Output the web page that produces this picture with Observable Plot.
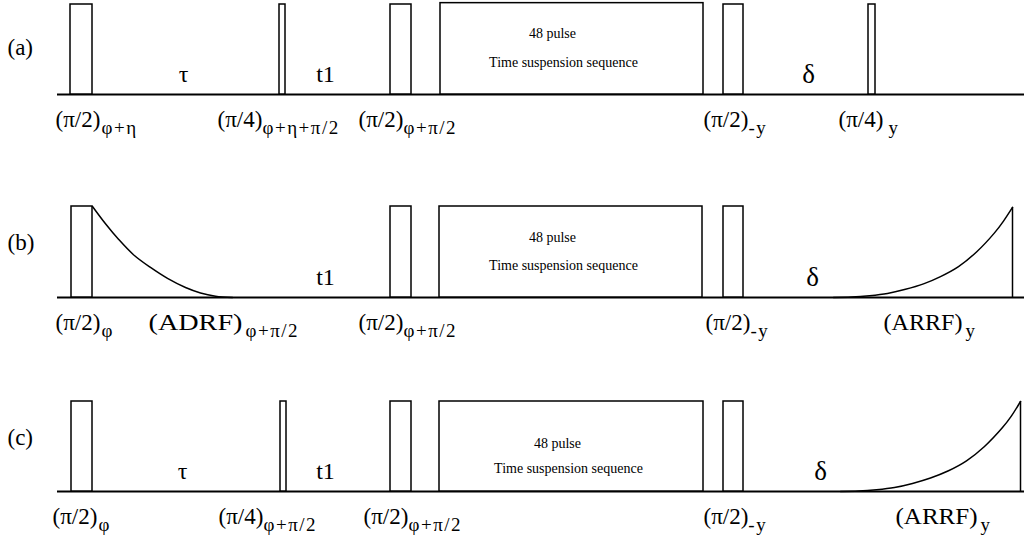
<!DOCTYPE html>
<html>
<head>
<meta charset="utf-8">
<script src="https://cdn.jsdelivr.net/npm/d3@7"></script>
<script src="https://cdn.jsdelivr.net/npm/@observablehq/plot@0.6"></script>
<style>
  body { margin: 0; background: #fff; }
  #chart svg { display: block; }
</style>
</head>
<body>
<div id="chart"></div>
<script>
// Time runs in arbitrary units along each sequence line (0 … 967).
// Amplitude is the RF field strength relative to a hard pulse (0 … 1).

const rowNames = ["(a)", "(b)", "(c)"];

// Hard pulses: [start, end, amplitude]
const pulsesA = [[13, 35, 1], [222, 228, 1], [333, 354, 1], [666, 686, 1], [811, 818, 1]];
const pulsesB = [[14, 35, 1], [333, 354, 1], [666, 686, 1]];
const pulsesC = [[14, 35, 1], [223, 229, 1], [333, 354, 1], [666, 686, 1]];

// 48-pulse time suspension block: [start, end, amplitude]
const blockA = [[383, 646, 1.015]];
const blockB = [[382, 645, 1]];
const blockC = [[382, 646, 1]];

// Adiabatic demagnetisation (ADRF) and remagnetisation (ARRF) ramps: [time, amplitude]
const adrfB = [[35, 1.0], [48, 0.81], [61, 0.64], [76, 0.47], [93, 0.33], [110, 0.21], [128, 0.11], [143, 0.05], [158, 0.015], [175, 0]];
const arrfB = [[776, 0], [794, 0.005], [812, 0.02], [830, 0.045], [848, 0.09], [866, 0.15], [883, 0.23], [901, 0.34], [919, 0.5], [937, 0.71], [946, 0.84], [955, 0.99]];
const arrfC = [[783, 0], [801, 0.005], [819, 0.02], [837, 0.045], [855, 0.09], [873, 0.15], [891, 0.23], [909, 0.34], [927, 0.5], [945, 0.71], [954, 0.84], [963, 1.0]];

// Delay periods: [symbol, centre time]
const delaysA = [["τ", 126], ["t1", 268], ["δ", 751]];
const delaysB = [["t1", 268], ["δ", 755]];
const delaysC = [["τ", 125], ["t1", 268], ["δ", 763]];

// Pulse names with phase subscripts: [name, phase, name start, phase start]
const namesA = [["(π/2)", "φ+η", -2, 44], ["(π/4)", "φ+η+π/2", 160, 205], ["(π/2)", "φ+π/2", 301, 346], ["(π/2)", "-y", 646, 691], ["(π/4)", "y", 781, 831]];
const namesB = [["(π/2)", "φ", -2, 44], ["(ADRF)", "φ+π/2", 91, 188], ["(π/2)", "φ+π/2", 301, 346], ["(π/2)", "-y", 648, 693], ["(ARRF)", "y", 826, 908]];
const namesC = [["(π/2)", "φ", -5, 41], ["(π/4)", "φ+π/2", 161, 206], ["(π/2)", "φ+π/2", 306, 351], ["(π/2)", "-y", 646, 690], ["(ARRF)", "y", 838, 923]];

// Text inside the suspension block: [line, centre time, height]
const blockTextA = [["48 pulse", 495, 0.68], ["Time suspension sequence", 506, 0.36]];
const blockTextB = [["48 pulse", 495, 0.66], ["Time suspension sequence", 506, 0.35]];
const blockTextC = [["48 pulse", 500, 0.53], ["Time suspension sequence", 511, 0.26]];

// Row-label heights (amplitude units)
const rowLabelAmp = [0.52, 0.6, 0.6];

const FONT = "Liberation Serif";
const NAME_SIZE = 23;

function sequence(cfg) {
  const marks = [
    Plot.ruleY([0], {stroke: "black", strokeWidth: 2}),
    Plot.rect(cfg.pulses, {x1: d => d[0], x2: d => d[1], y1: 0, y2: d => d[2], fill: "white", stroke: "black", strokeWidth: 1.5}),
    Plot.rect(cfg.block, {x1: d => d[0], x2: d => d[1], y1: 0, y2: d => d[2], fill: "white", stroke: "black", strokeWidth: 1.5}),
    Plot.text(cfg.blockText, {x: d => d[1], y: d => d[2], text: d => d[0], fontSize: 14, fontFamily: FONT, fill: "black"}),
    Plot.text(cfg.delays, {x: d => d[1], y: 0, text: d => d[0], dy: -20, fontSize: d => d[0] === "δ" ? 27 : 24, fontFamily: FONT, fill: "black"}),
    Plot.text(cfg.names, {x: d => d[2], y: 0, text: d => d[0], dy: 25, textAnchor: "start", fontSize: NAME_SIZE, fontFamily: FONT, fill: "black"}),
    Plot.text([cfg.label], {x: -50, y: d => d[1], text: d => d[0], textAnchor: "start", fontSize: 23, fontFamily: FONT, fill: "black"})
  ];
  for (const ramp of cfg.ramps) {
    marks.push(Plot.line(ramp, {x: d => d[0], y: d => d[1], curve: "catmull-rom", stroke: "black", strokeWidth: 1.5}));
  }
  for (const ramp of cfg.rampEnds) {
    const last = ramp[ramp.length - 1];
    marks.push(Plot.ruleX([last], {x: d => d[0], y1: 0, y2: d => d[1], stroke: "black", strokeWidth: 1.5}));
  }
  return Plot.plot({
    width: 1024,
    height: cfg.height,
    marginLeft: 57,
    marginRight: 0,
    marginTop: cfg.marginTop,
    marginBottom: cfg.marginBottom,
    x: {domain: [0, 967], axis: null},
    y: {domain: [0, 1], axis: null},
    style: {fontFamily: FONT, background: "white", overflow: "visible", color: "black"},
    marks
  });
}

// Attach the phase subscript after each pulse name, starting at its own time position.
// Wide names are stretched so that the name runs up to its subscript.
function addSubscripts(svg, names) {
  const x = svg.scale("x");
  for (const g of svg.querySelectorAll("g")) {
    const texts = Array.from(g.children).filter(n => n.tagName.toLowerCase() === "text");
    if (texts.length === names.length && texts.every((t, i) => t.textContent === names[i][0])) {
      texts.forEach((t, i) => {
        const span = x.apply(names[i][3]) - x.apply(names[i][2]);
        const mainWidth = t.getComputedTextLength();
        let gap = span - mainWidth;
        if (gap > 6) {
          const target = span - 3;
          t.setAttribute("textLength", target);
          t.setAttribute("lengthAdjust", "spacingAndGlyphs");
          gap = 3;
        }
        const sub = document.createElementNS("http://www.w3.org/2000/svg", "tspan");
        sub.setAttribute("dx", Math.max(0, gap));
        sub.setAttribute("dy", "0.36em");
        sub.setAttribute("font-size", 19);
        sub.setAttribute("letter-spacing", 1.5);
        sub.textContent = names[i][1];
        // keep the stretched name in its own tspan so textLength applies to it only
        if (t.hasAttribute("textLength")) {
          const mainSpan = document.createElementNS("http://www.w3.org/2000/svg", "tspan");
          mainSpan.textContent = t.textContent;
          mainSpan.setAttribute("textLength", t.getAttribute("textLength"));
          mainSpan.setAttribute("lengthAdjust", "spacingAndGlyphs");
          t.removeAttribute("textLength");
          t.removeAttribute("lengthAdjust");
          t.textContent = "";
          t.appendChild(mainSpan);
        }
        t.appendChild(sub);
      });
      break;
    }
  }
}

const chart = document.getElementById("chart");
const rows = [
  {height: 200, marginTop: 4, marginBottom: 106,
   pulses: pulsesA, block: blockA, blockText: blockTextA, delays: delaysA, names: namesA,
   label: [rowNames[0], rowLabelAmp[0]], ramps: [], rampEnds: []},
  {height: 196, marginTop: 6, marginBottom: 99,
   pulses: pulsesB, block: blockB, blockText: blockTextB, delays: delaysB, names: namesB,
   label: [rowNames[1], rowLabelAmp[1]], ramps: [adrfB, arrfB], rampEnds: [arrfB]},
  {height: 146, marginTop: 5, marginBottom: 51,
   pulses: pulsesC, block: blockC, blockText: blockTextC, delays: delaysC, names: namesC,
   label: [rowNames[2], rowLabelAmp[2]], ramps: [arrfC], rampEnds: [arrfC]}
];
for (const cfg of rows) {
  const svg = sequence(cfg);
  chart.append(svg);
  addSubscripts(svg, cfg.names);
}
</script>
</body>
</html>
